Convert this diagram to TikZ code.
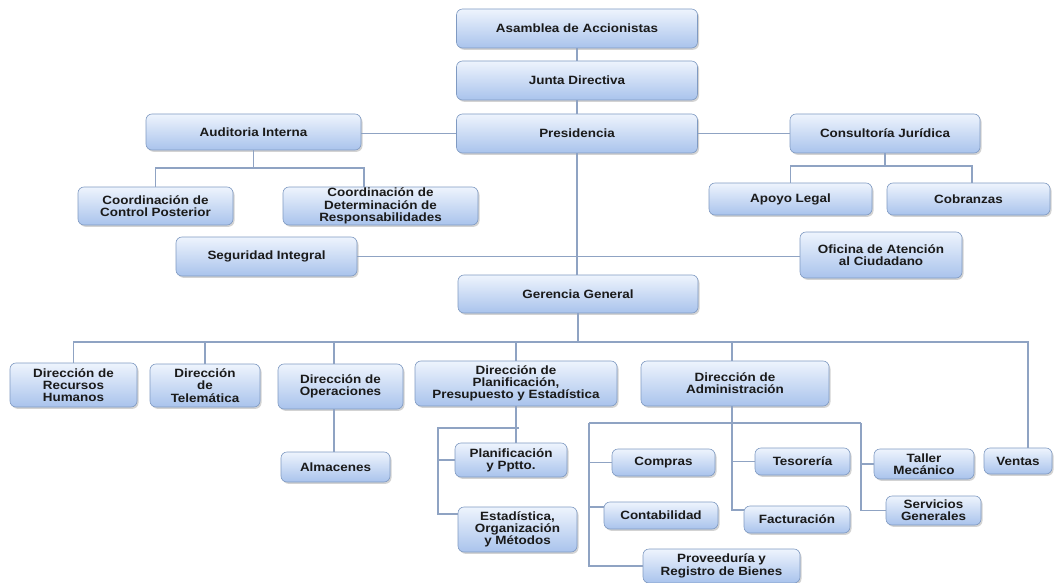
\documentclass[tikz,border=0pt]{standalone}
\usepackage{fontspec}
\setmainfont{Liberation Sans}[FakeStretch=1.12]
\usetikzlibrary{shadows}
\definecolor{lineclr}{HTML}{8FA3C3}
\definecolor{boxtop}{HTML}{EEF4FD}
\definecolor{boxbot}{HTML}{A9C3EC}
\definecolor{boxedge}{HTML}{7F9AC2}
\definecolor{txt}{HTML}{1A1A1A}
\newcommand\orgbox[6]{\node[box, minimum width=#4, minimum height=#5] (#1) at (#2,#3) {#6};}
\begin{document}
\begin{tikzpicture}[x=1pt,y=-1pt,
  box/.style={draw=boxedge, line width=0.6pt, rounded corners=6pt,
    top color=boxtop, bottom color=boxbot, align=center,
    font=\fontsize{12}{12.3}\selectfont\bfseries, text=txt, inner sep=1pt,
    drop shadow={shadow xshift=1.5pt, shadow yshift=-1.8pt, opacity=0.35}},
  conn/.style={draw=lineclr, line width=1.3pt}]
\useasboundingbox (0,0) rectangle (1055,583);

% connectors first (behind boxes)
\begin{scope}[on background layer/.style={}]
\end{scope}

\orgbox{asam}{577}{28.5}{241}{39}{Asamblea de Accionistas}
\orgbox{junta}{577}{80.5}{241}{39}{Junta Directiva}
\orgbox{pres}{577}{133.5}{241}{39}{Presidencia}
\orgbox{audit}{253.5}{132}{215}{36}{Auditoria Interna}
\orgbox{ccp}{155.5}{206}{155}{38}{Coordinación de\\Control Posterior}
\orgbox{cdr}{380.5}{206}{195}{38}{Coordinación de\\Determinación de\\Responsabilidades}
\orgbox{consul}{885}{133.5}{190}{39}{Consultoría Jurídica}
\orgbox{apoyo}{790.5}{199}{163}{32}{Apoyo Legal}
\orgbox{cobr}{968.5}{199}{163}{32}{Cobranzas}
\orgbox{seg}{266.5}{256.5}{181}{39}{Seguridad Integral}
\orgbox{ofi}{881}{255}{162}{46}{Oficina de Atención\\al Ciudadano}
\orgbox{ger}{578}{294}{240}{38}{Gerencia General}
\orgbox{rrhh}{73.5}{385}{127}{44}{Dirección de\\Recursos\\Humanos}
\orgbox{tele}{205}{385.5}{110}{43}{Dirección\\de\\Telemática}
\orgbox{oper}{340.5}{386.5}{125}{45}{Dirección de\\Operaciones}
\orgbox{alm}{335.5}{467}{109}{30}{Almacenes}
\orgbox{plan}{516}{383.5}{202}{45}{Dirección de\\Planificación,\\Presupuesto y Estadística}
\orgbox{pptto}{511}{460}{112}{34}{Planificación\\y Pptto.}
\orgbox{est}{517.5}{529.5}{119}{45}{Estadística,\\Organización\\y Métodos}
\orgbox{admin}{735}{383.5}{188}{45}{Dirección de\\Administración}
\orgbox{compras}{663.5}{462.5}{103}{27}{Compras}
\orgbox{conta}{661}{515.5}{114}{27}{Contabilidad}
\orgbox{prov}{721.5}{566}{157}{34}{Proveeduría y\\Registro de Bienes}
\orgbox{teso}{802.5}{461.5}{95}{27}{Tesorería}
\orgbox{fact}{797}{519.5}{106}{27}{Facturación}
\orgbox{taller}{924}{464}{100}{30}{Taller\\Mecánico}
\orgbox{serv}{933.5}{510.5}{95}{29}{Servicios\\Generales}
\orgbox{ventas}{1018}{461}{68}{26}{Ventas}

% trunk
\draw[conn] (asam.south) -- (junta.north);
\draw[conn] (junta.south) -- (pres.north);
\draw[conn] (pres.south) -- (pres.south |- ger.north);
\draw[conn] (pres.west) -- (pres.west -| audit.east);
\draw[conn] (pres.east) -- (pres.east -| consul.west);
\draw[conn] (seg.east) -- (seg.east -| ofi.west);

% auditoria
\coordinate (abusR) at (364,168);
\draw[conn] (audit.south) -- (audit.south |- abusR);
\draw[conn] (ccp.north) |- (abusR) -- (abusR |- cdr.north);

% consultoria
\coordinate (cbusR) at (972,166);
\draw[conn] (consul.south) -- (consul.south |- cbusR);
\draw[conn] (apoyo.north) |- (cbusR) -- (cbusR |- cobr.north);

% gerencia bus
\coordinate (gbusR) at (1028,342);
\coordinate (d3) at (334,342);
\coordinate (d5) at (732,342);
\draw[conn] (ger.south) -- (ger.south |- gbusR);
\draw[conn] (rrhh.north) |- (gbusR) -- (gbusR |- ventas.north);
\draw[conn] (tele.north) -- (tele.north |- gbusR);
\draw[conn] (d3) -- (d3 |- oper.north);
\draw[conn] (plan.north) -- (plan.north |- gbusR);
\draw[conn] (d5) -- (d5 |- admin.north);

% operaciones
\draw[conn] (d3 |- oper.south) -- (d3 |- alm.north);

% planificacion
\coordinate (pb) at (438,428);
\coordinate (pb2) at (438,514);
\draw[conn] (plan.south) -- (plan.south |- pptto.north);
\draw[conn] ([xshift=3pt]plan.south |- pb) -- (pb) -- (pb2) -- (pb2 -| est.west);
\draw[conn] (pb |- pptto.west) -- (pptto.west);

% administracion
\coordinate (adL) at (589,423);
\coordinate (adR) at (861,423);
\coordinate (fst) at (732,510);
\coordinate (cst) at (589,507);
\draw[conn] (d5 |- admin.south) -- (fst) -- (fst -| fact.west);
\draw[conn] (adL) -- (adR);
\draw[conn] (adL) |- (prov.west);
\draw[conn] (adL |- compras.west) -- (compras.west);
\draw[conn] (cst) -- (cst -| conta.west);
\draw[conn] (d5 |- teso.west) -- (teso.west);
\draw[conn] (adR) |- (serv.west);
\draw[conn] (adR |- taller.west) -- (taller.west);
\end{tikzpicture}
\end{document}
